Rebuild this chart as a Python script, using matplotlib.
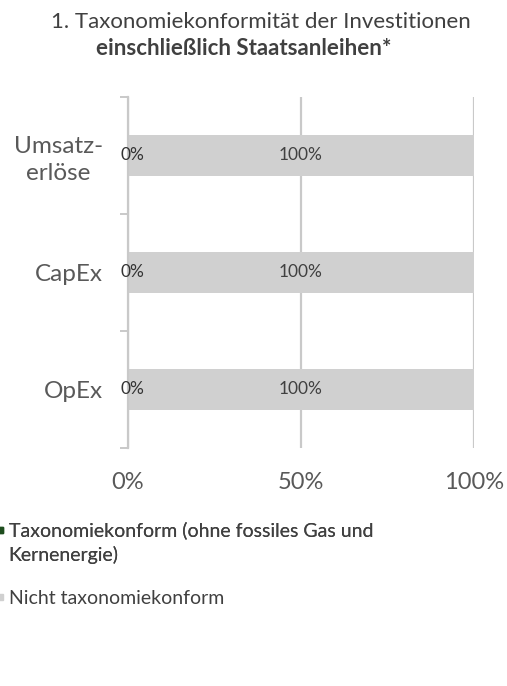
import matplotlib
matplotlib.use("Agg")
import matplotlib.pyplot as plt
from matplotlib.lines import Line2D

plt.rcParams['font.family'] = ['Lato', 'DejaVu Sans']

categories = ["Umsatz-\nerlöse", "CapEx", "OpEx"]
aligned = [0, 0, 0]
not_aligned = [100, 100, 100]
xticks = [0, 50, 100]
xtick_labels = ["0%", "50%", "100%"]
legend_label_aligned = ["Taxonomiekonform (ohne fossiles Gas und", "Kernenergie)"]
legend_label_not = "Nicht taxonomiekonform"

green = "#1e4d1e"
gray_bar = "#d0d0d0"
grid_c = "#c9c9c9"
text_c = "#595959"

fig = plt.figure(figsize=(5.07, 6.86), dpi=100)
ax = fig.add_axes([0.2525, 0.347, 0.6825, 0.5116])

y = list(range(len(categories)))
h = 0.35
ax.barh(y, aligned, height=h, color=green)
ax.barh(y, not_aligned, left=aligned, height=h, color=gray_bar)

for yi, a, n in zip(y, aligned, not_aligned):
    ax.text(a / 2 + 1.2, yi, f"{a}%", ha="center", va="center", fontsize=12.5, color="#333333")
    ax.text(a + n / 2, yi, f"{n}%", ha="center", va="center", fontsize=12.5, color="#404040")

ax.set_xlim(0, 100)
ax.set_ylim(len(categories) - 0.5, -0.5)
ax.set_xticks(xticks)
ax.set_xticklabels(xtick_labels, fontsize=17, color=text_c)
ax.tick_params(axis="x", length=0, pad=17)
ax.xaxis.grid(True, color=grid_c, linewidth=1.6)
ax.set_axisbelow(True)

ax.set_yticks(y)
ax.set_yticklabels(categories, fontsize=17.5, color=text_c, linespacing=1.3,
                   multialignment="center")
ax.tick_params(axis="y", length=0, pad=18)
ax.set_yticks([-0.5, 0.5, 1.5, 2.5], minor=True)
ax.tick_params(axis="y", which="minor", length=6, color=grid_c, width=1.4)

for s in ["top", "right", "bottom"]:
    ax.spines[s].set_visible(False)
ax.spines["left"].set_color(grid_c)
ax.spines["left"].set_linewidth(1.6)

fig.text(0.514, 0.968, "1. Taxonomiekonformität der Investitionen", ha="center", va="center",
         fontsize=16, color="#404040")
fig.text(0.481, 0.929, "einschließlich Staatsanleihen*", ha="center", va="center",
         fontsize=16, fontweight="bold", color="#404040")

h_green = Line2D([], [], marker="s", linestyle="none", markersize=4.5, color=green)
h_none = Line2D([], [], marker="s", linestyle="none", markersize=4.5, color="none")
h_gray = Line2D([], [], marker="s", linestyle="none", markersize=4.5, color=gray_bar)

common = dict(frameon=False, fontsize=14, handlelength=0.45, handletextpad=0.2,
              labelcolor="#404040", borderaxespad=0, borderpad=0)
leg1 = fig.legend([h_green, h_none], legend_label_aligned, loc="center left",
                  bbox_to_anchor=(-0.008, 0.209), labelspacing=0.3, **common)
fig.add_artist(leg1)
leg2 = fig.legend([h_gray], [legend_label_not], loc="center left",
                  bbox_to_anchor=(-0.008, 0.128), **common)

fig.savefig("out.png", dpi=100, facecolor="white")
